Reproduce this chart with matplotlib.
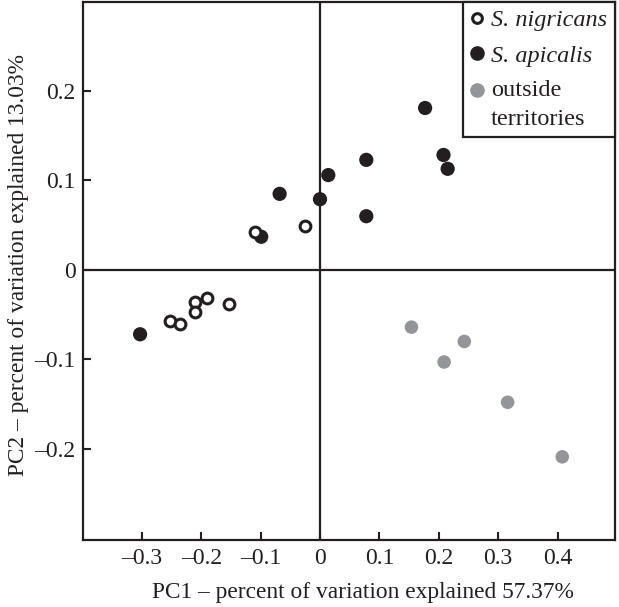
import matplotlib
matplotlib.use("Agg")
import matplotlib.pyplot as plt
from matplotlib.lines import Line2D
from matplotlib.legend_handler import HandlerLine2D
import numpy as np

# Data
nig_x = [-0.252, -0.2355, -0.211, -0.211, -0.190, -0.154, -0.110, -0.026]
nig_y = [-0.057, -0.060, -0.036, -0.047, -0.031, -0.038, 0.042, 0.049]
api_x = [-0.303, -0.099, -0.068, 0.000, 0.014, 0.078, 0.078, 0.177, 0.208, 0.215]
api_y = [-0.072, 0.037, 0.085, 0.079, 0.106, 0.123, 0.060, 0.181, 0.1285, 0.113]
out_x = [0.154, 0.243, 0.209, 0.316, 0.408]
out_y = [-0.064, -0.080, -0.103, -0.148, -0.209]

xticks = [-0.3, -0.2, -0.1, 0, 0.1, 0.2, 0.3, 0.4]
xticklabels = ["–0.3", "–0.2", "–0.1", "0", "0.1", "0.2", "0.3", "0.4"]
yticks = [-0.2, -0.1, 0, 0.1, 0.2]
yticklabels = ["–0.2", "–0.1", "0", "0.1", "0.2"]

plt.rcParams['font.family'] = ['Liberation Serif', 'DejaVu Serif']
dark = '#231f20'
grey = '#939598'


class ShiftedHandler(HandlerLine2D):
    def __init__(self, shift=0.0, **kw):
        super().__init__(**kw)
        self.shift = shift

    def create_artists(self, legend, orig_handle, xdescent, ydescent, width, height, fontsize, trans):
        artists = super().create_artists(legend, orig_handle, xdescent, ydescent,
                                         width, height, fontsize, trans)
        for a in artists:
            a.set_ydata(np.asarray(a.get_ydata()) + self.shift)
        return artists


fig = plt.figure(figsize=(6.19, 6.07), dpi=100)
ax = fig.add_axes([82.5/619, 1-540/607, (614.5-82.5)/619, (540-2)/607])

ax.axhline(0, color=dark, lw=1.6, zorder=1)
ax.axvline(0, color=dark, lw=1.6, zorder=1)

ax.scatter(out_x, out_y, s=95, color=grey, edgecolors='none', zorder=3)
ax.scatter(api_x, api_y, s=105, color=dark, edgecolors='none', zorder=3)
ax.scatter(nig_x, nig_y, s=60, facecolors='white', edgecolors=dark, linewidths=2.2, zorder=4)

ax.set_xlim(-0.40, 0.496)
ax.set_ylim(-0.302, 0.2995)
ax.set_xticks(xticks)
ax.set_xticklabels(xticklabels)
ax.set_yticks(yticks)
ax.set_yticklabels(yticklabels)
ax.tick_params(direction='in', length=6, width=1.5, colors=dark, labelsize=17)
ax.tick_params(axis='x', pad=6)
ax.tick_params(axis='y', pad=5)
for sp in ax.spines.values():
    sp.set_linewidth(1.6)
    sp.set_color(dark)

ax.set_xlabel("PC1 – percent of variation explained 57.37%", fontsize=16.8, color=dark)
ax.set_ylabel("PC2 – percent of variation explained 13.03%", fontsize=16.8, color=dark)
ax.xaxis.set_label_coords(0.527, -0.0967)
ax.yaxis.set_label_coords(-0.121, 0.511)
ax.xaxis.label.set_va('center')
ax.yaxis.label.set_va('center')

h_nig = Line2D([], [], marker='o', linestyle='none', markersize=7, markerfacecolor='white',
               markeredgecolor=dark, markeredgewidth=2.2)
h_api = Line2D([], [], marker='o', linestyle='none', markersize=9.5, color=dark)
h_out = Line2D([], [], marker='o', linestyle='none', markersize=9.5, color=grey)
labels = ["S. nigricans", "S. apicalis", "outside\nterritories"]
leg = ax.legend([h_nig, h_api, h_out], labels, loc='upper right', bbox_to_anchor=(1, 1),
                borderaxespad=0, frameon=True, fancybox=False, fontsize=17.5,
                handlelength=0.5, handletextpad=0.35, borderpad=0.3, labelspacing=0.55,
                framealpha=1, handler_map={h_out: ShiftedHandler(shift=10.5)})
leg.get_frame().set_edgecolor(dark)
leg.get_frame().set_linewidth(1.6)
for t in leg.get_texts()[:2]:
    t.set_fontstyle('italic')
for t in leg.get_texts():
    t.set_color(dark)
    t.set_linespacing(1.5)

fig.savefig("out.png", dpi=100)
